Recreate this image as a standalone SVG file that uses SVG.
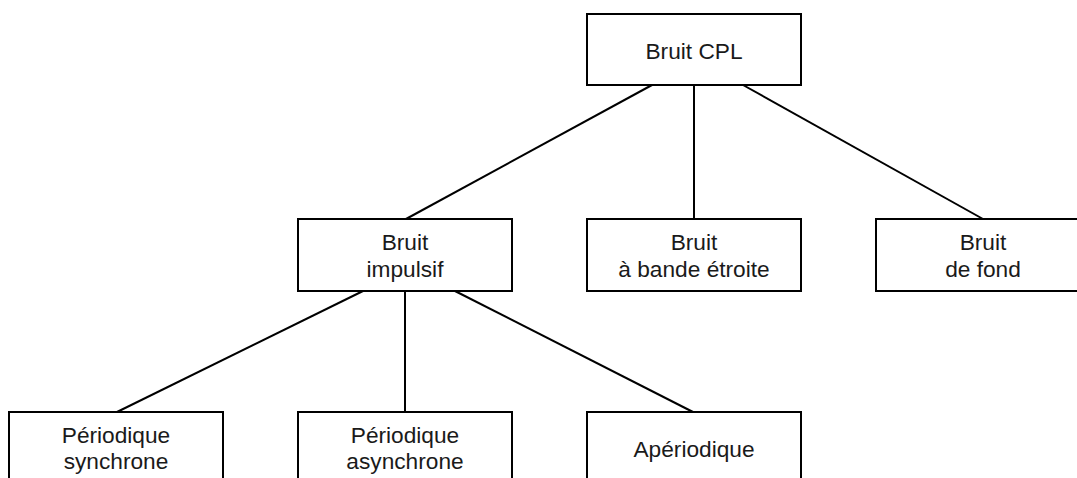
<svg xmlns="http://www.w3.org/2000/svg" width="1077" height="478" viewBox="0 0 1077 478">
<style>
.box{fill:#fff;stroke:#000;stroke-width:2}
.t{font-family:"Liberation Sans",Arial,sans-serif;font-size:22.7px;fill:#1a1a1a;text-anchor:middle}
.c{stroke:#000;stroke-width:2;fill:none}
</style>
<rect width="1077" height="478" fill="#fff"/>
<g id="connectors">
<line class="c" x1="652" y1="85" x2="406" y2="219"/>
<line class="c" x1="694" y1="85" x2="694" y2="219"/>
<line class="c" x1="743" y1="85" x2="983" y2="219"/>
<line class="c" x1="363" y1="291" x2="117" y2="412"/>
<line class="c" x1="405" y1="291" x2="405" y2="412"/>
<line class="c" x1="455" y1="291" x2="693" y2="412"/>
</g>
<g id="root">
<rect class="box" x="587" y="14" width="214" height="71"/>
<text class="t" x="694" y="58.5">Bruit CPL</text>
</g>
<g id="impulsif">
<rect class="box" x="298" y="219" width="214" height="72"/>
<text class="t" x="405" y="250">Bruit</text>
<text class="t" x="405" y="277">impulsif</text>
</g>
<g id="bande">
<rect class="box" x="587" y="219" width="214" height="72"/>
<text class="t" x="694" y="250">Bruit</text>
<text class="t" x="694" y="277">à bande étroite</text>
</g>
<g id="fond">
<rect class="box" x="876" y="219" width="214" height="72"/>
<text class="t" x="983" y="250">Bruit</text>
<text class="t" x="983" y="277">de fond</text>
</g>
<g id="synchrone">
<rect class="box" x="9" y="412" width="214" height="72"/>
<text class="t" x="116" y="443">Périodique</text>
<text class="t" x="116" y="469">synchrone</text>
</g>
<g id="asynchrone">
<rect class="box" x="298" y="412" width="214" height="72"/>
<text class="t" x="405" y="443">Périodique</text>
<text class="t" x="405" y="469">asynchrone</text>
</g>
<g id="aperiodique">
<rect class="box" x="587" y="412" width="214" height="72"/>
<text class="t" x="694" y="457">Apériodique</text>
</g>
</svg>
